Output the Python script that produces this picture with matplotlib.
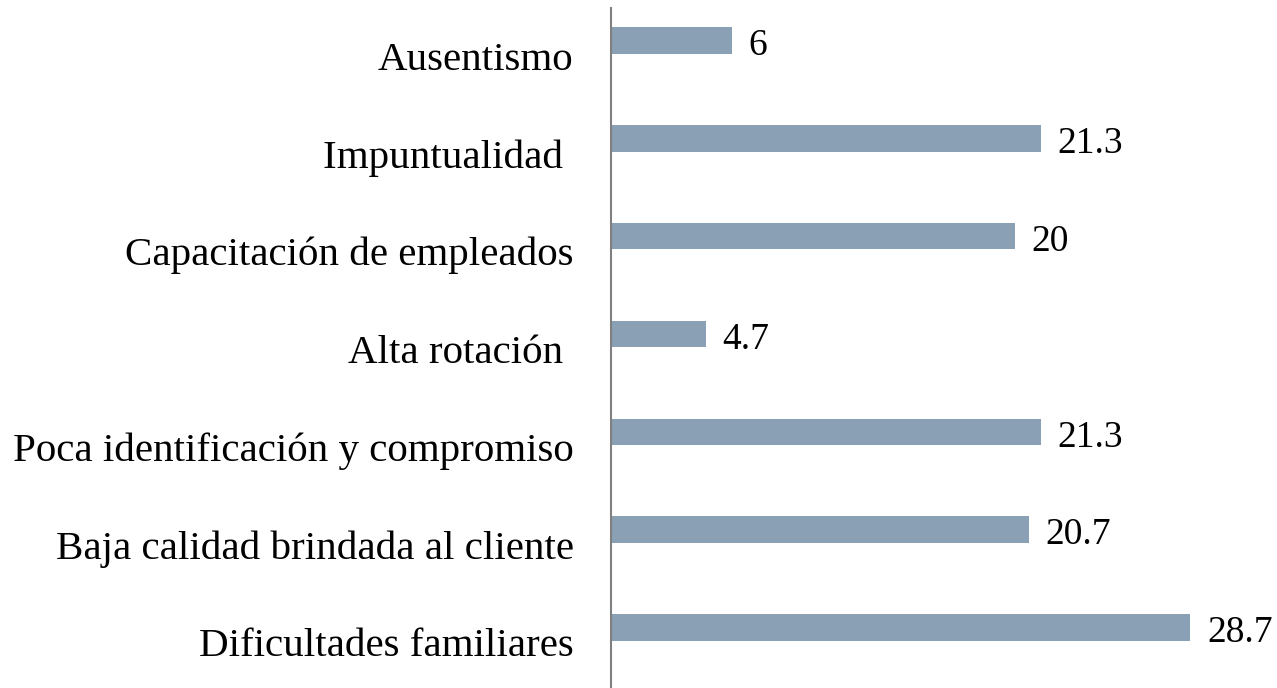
import matplotlib.pyplot as plt
import matplotlib.transforms as mtransforms

# data, bottom to top
categories = [
    "Dificultades familiares",
    "Baja calidad brindada al cliente",
    "Poca identificación y compromiso",
    "Alta rotación ",
    "Capacitación de empleados",
    "Impuntualidad ",
    "Ausentismo",
]
values = [28.7, 20.7, 21.3, 4.7, 20, 21.3, 6]
value_labels = ["28.7", "20.7", "21.3", "4.7", "20", "21.3", "6"]

plt.rcParams["font.family"] = ["Liberation Serif", "DejaVu Serif"]

fig = plt.figure(figsize=(12.77, 6.88), dpi=100)
ax = fig.add_axes([0.4785, 0.0, 0.5215, 0.988])

pos = list(range(len(categories)))
ax.barh(pos, values, height=0.27, color="#8aa0b4")

for p, v, lab in zip(pos, values, value_labels):
    ax.annotate(lab, (v, p), xytext=(12, -4), textcoords="offset points",
                va="center", ha="left", fontsize=27)

ax.set_xlim(0, 33)
ax.set_ylim(-0.62, 6.33)
ax.set_yticks(pos)
ax.set_yticklabels(categories, fontsize=29.5)
ax.tick_params(axis="y", length=0, pad=27)
ax.set_xticks([])

offset = mtransforms.ScaledTranslation(0, -15 / 100, fig.dpi_scale_trans)
for t in ax.get_yticklabels():
    t.set_transform(t.get_transform() + offset)

for s in ["top", "right", "bottom"]:
    ax.spines[s].set_visible(False)
ax.spines["left"].set_color("#808080")
ax.spines["left"].set_linewidth(1.5)

fig.savefig("out.png", dpi=100)
